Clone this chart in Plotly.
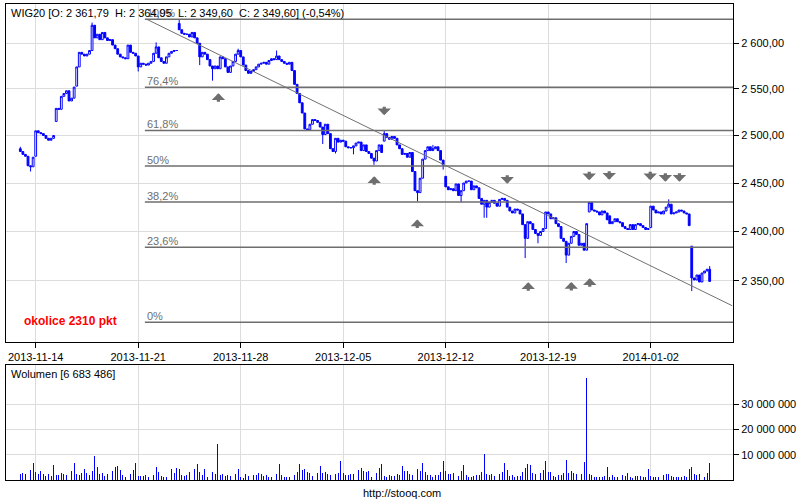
import numpy as np
import plotly.graph_objects as go

# ---------------- data ----------------
days = ["2013-11-13", "2013-11-14", "2013-11-15", "2013-11-18", "2013-11-19", "2013-11-20",
        "2013-11-21", "2013-11-22", "2013-11-25", "2013-11-26", "2013-11-27", "2013-11-28",
        "2013-11-29", "2013-12-02", "2013-12-03", "2013-12-04", "2013-12-05", "2013-12-06",
        "2013-12-09", "2013-12-10", "2013-12-11", "2013-12-12", "2013-12-13", "2013-12-16",
        "2013-12-17", "2013-12-18", "2013-12-19", "2013-12-20", "2013-12-23", "2013-12-27",
        "2013-12-30", "2014-01-02", "2014-01-03", "2014-01-07"]

# opening price of the first hourly bar of each session
day_open = [2486, 2478, 2515, 2553, 2606, 2594, 2586, 2596, 2622, 2600, 2572, 2592, 2577,
            2582, 2535, 2509, 2495, 2484, 2494, 2480, 2475, 2457, 2450, 2432, 2432, 2393,
            2420, 2376, 2420, 2416, 2402, 2404, 2428, 2385]

# hourly closes per session (the first session starts later)
day_close = [
    [2483, 2480, 2478, 2468, 2467, 2477],
    [2505, 2503, 2502, 2500, 2497, 2495, 2497, 2500],
    [2529, 2528, 2542, 2545, 2548, 2537, 2540, 2552],
    [2574, 2590, 2588, 2586, 2588, 2592, 2620, 2606],
    [2610, 2604, 2612, 2606, 2603, 2604, 2598, 2594],
    [2588, 2585, 2584, 2583, 2598, 2590, 2589, 2586],
    [2574, 2578, 2577, 2576, 2578, 2580, 2589, 2596],
    [2584, 2580, 2578, 2585, 2589, 2591, 2592, 2592],
    [2615, 2611, 2610, 2610, 2607, 2612, 2606, 2600],
    [2585, 2590, 2588, 2582, 2575, 2572, 2575, 2572],
    [2585, 2583, 2574, 2568, 2575, 2580, 2588, 2592],
    [2585, 2576, 2570, 2567, 2569, 2571, 2574, 2577],
    [2578, 2579, 2577, 2581, 2583, 2582, 2586, 2582],
    [2580, 2578, 2577, 2579, 2570, 2555, 2545, 2535],
    [2524, 2507, 2506, 2512, 2517, 2516, 2514, 2509],
    [2501, 2512, 2502, 2486, 2483, 2497, 2493, 2495],
    [2494, 2488, 2487, 2487, 2489, 2492, 2493, 2484],
    [2490, 2483, 2481, 2476, 2473, 2484, 2490, 2482],
    [2502, 2498, 2496, 2499, 2497, 2490, 2486, 2480],
    [2481, 2477, 2482, 2462, 2442, 2440, 2455, 2475],
    [2484, 2488, 2484, 2486, 2488, 2484, 2474, 2469],
    [2446, 2443, 2444, 2442, 2449, 2437, 2442, 2450],
    [2452, 2452, 2443, 2447, 2445, 2434, 2428, 2432],
    [2425, 2430, 2432, 2429, 2426, 2433, 2434, 2432],
    [2425, 2421, 2419, 2423, 2422, 2418, 2407, 2393],
    [2410, 2408, 2402, 2398, 2396, 2400, 2403, 2420],
    [2418, 2413, 2414, 2408, 2405, 2393, 2390, 2376],
    [2388, 2395, 2400, 2397, 2386, 2388, 2381, 2408],
    [2430, 2422, 2421, 2420, 2417, 2421, 2419, 2412],
    [2408, 2410, 2413, 2410, 2409, 2405, 2403, 2402],
    [2407, 2402, 2407, 2408, 2406, 2404, 2402, 2403],
    [2426, 2422, 2419, 2420, 2418, 2421, 2425, 2428],
    [2418, 2419, 2420, 2422, 2421, 2419, 2418, 2406],
    [2353, 2351, 2356, 2349, 2358, 2360, 2361.79, 2349.60],
]

# visible wicks beyond the bodies: (session, hourly slot) -> price
wick_high = {(0, 2): 2488, (3, 6): 2623, (6, 7): 2601, (8, 0): 2626.5, (10, 7): 2594,
             (12, 6): 2592, (18, 0): 2505, (20, 3): 2490, (31, 7): 2433, (33, 7): 2364.95}
wick_low = {(0, 6): 2462, (6, 0): 2569, (9, 0): 2576, (9, 5): 2559, (15, 0): 2491,
            (15, 5): 2481, (16, 4): 2480, (17, 4): 2469, (19, 5): 2431, (20, 7): 2464,
            (21, 6): 2430, (22, 7): 2414, (23, 0): 2414, (24, 7): 2373, (25, 4): 2388,
            (26, 7): 2368, (33, 0): 2340, (33, 7): 2349.60}

# hourly volume in millions
day_volume = [
    [2.2, 2.6, 2.2, 1.9, 3.8, 6.6],
    [3.1, 2.2, 3.4, 2.2, 1.5, 2.2, 1.5, 5.8],
    [1.8, 1.8, 2.6, 2.2, 1.8, 1.8, 3.4, 6.6],
    [2.2, 1.8, 2.6, 4.2, 2.6, 1.8, 3.4, 9.5],
    [5.0, 2.2, 2.6, 1.5, 2.2, 1.5, 3.4, 5.0],
    [5.4, 3.8, 1.8, 1.1, 1.5, 2.2, 3.8, 6.6],
    [1.5, 1.5, 1.5, 1.8, 1.1, 1.8, 1.8, 5.0],
    [3.0, 1.5, 1.1, 1.1, 1.8, 4.2, 2.6, 4.6],
    [4.2, 1.8, 1.5, 1.8, 3.0, 3.0, 4.2, 6.2],
    [3.0, 1.8, 4.2, 1.1, 1.8, 3.0, 2.2, 14.3],
    [1.8, 2.2, 1.5, 1.8, 1.5, 1.8, 2.2, 4.2],
    [1.1, 0.7, 2.2, 1.5, 1.5, 1.8, 1.8, 2.6],
    [2.2, 1.5, 1.8, 1.1, 1.1, 1.8, 2.2, 6.2],
    [1.8, 1.1, 1.1, 1.1, 1.1, 1.8, 3.0, 6.2],
    [3.8, 4.2, 3.0, 2.6, 1.5, 2.2, 2.6, 5.4],
    [2.6, 3.0, 2.2, 1.8, 2.6, 2.2, 2.6, 7.4],
    [2.6, 1.8, 1.8, 2.2, 2.2, 1.8, 3.8, 4.6],
    [3.4, 3.0, 3.4, 1.1, 2.6, 2.6, 4.6, 6.2],
    [1.5, 1.1, 1.8, 1.5, 1.5, 2.2, 1.8, 5.4],
    [3.4, 3.4, 2.2, 1.8, 2.6, 4.2, 3.4, 6.6],
    [3.0, 1.8, 1.8, 1.1, 1.8, 1.8, 3.0, 7.4],
    [3.4, 2.2, 2.2, 2.6, 1.5, 1.5, 3.4, 5.8],
    [1.8, 1.1, 1.1, 1.5, 1.8, 1.8, 3.0, 10.3],
    [2.2, 1.8, 2.2, 1.5, 3.0, 2.2, 3.0, 6.6],
    [3.8, 1.5, 1.8, 1.1, 1.5, 1.5, 3.0, 4.7],
    [6.2, 5.8, 2.6, 2.2, 2.6, 2.6, 3.8, 7.4],
    [3.0, 3.0, 1.5, 1.1, 1.8, 1.8, 2.6, 7.8],
    [2.6, 3.4, 2.6, 2.2, 1.8, 2.2, 7.0, 40.4],
    [2.2, 1.8, 1.1, 1.1, 1.1, 1.1, 1.5, 5.0],
    [1.1, 1.8, 1.1, 1.1, 1.8, 1.8, 1.5, 2.6],
    [1.1, 0.7, 1.5, 1.5, 1.5, 1.1, 1.1, 4.2],
    [1.5, 1.1, 1.1, 1.1, 1.5, 1.8, 2.2, 2.2],
    [1.5, 1.1, 1.1, 1.1, 1.1, 1.5, 1.1, 4.2],
    [5.0, 2.2, 1.8, 2.2, 1.5, 1.1, 2.6, 6.683486],
]

tick_days = ["2013-11-14", "2013-11-21", "2013-11-28", "2013-12-05",
             "2013-12-12", "2013-12-19", "2014-01-02"]
price_ticks = [2350, 2400, 2450, 2500, 2550, 2600]
volume_ticks = [10_000_000, 20_000_000, 30_000_000]

fib_low, fib_high = 2309.0, 2626.7
fib_levels = [0.0, 0.236, 0.382, 0.5, 0.618, 0.764, 1.0]
fib_labels = ["0%", "23,6%", "38,2%", "50%", "61,8%", "76,4%", "100%"]
fib_start = 50.6           # bar index where the retracement lines begin

trend_x = [51.3, 279.8]    # bar index
trend_y = [2626.7, 2325.4]  # price

arrow_up_x = [79.3, 140.1, 156.9, 200.2, 217.0, 224.2]
arrow_up_y = [2545.4, 2457.1, 2412.3, 2348.8, 2349.0, 2352.8]
arrow_down_x = [144.0, 192.0, 224.0, 231.8, 247.8, 253.7, 259.2]
arrow_down_y = [2521.6, 2449.2, 2452.9, 2453.4, 2452.9, 2451.3, 2451.3]

change_text = "(-0,54%)"
note_text = "okolice 2310 pkt"

# ---------------- build hourly bars ----------------
SLOTS = 8
bx, bo, bh, bl, bc, bv = [], [], [], [], [], []
for d, closes in enumerate(day_close):
    first = SLOTS - len(closes)
    prev = day_open[d]
    for j, cl in enumerate(closes):
        slot = first + j
        op = prev
        hi = max(op, cl, wick_high.get((d, slot), 0))
        lo = min(op, cl, wick_low.get((d, slot), 1e9))
        bx.append(d * SLOTS + slot)
        bo.append(op); bh.append(hi); bl.append(lo); bc.append(cl)
        bv.append(day_volume[d][j] * 1e6)
        prev = cl


def fmt(v, dec=2):
    s = f"{v:,.{dec}f}"
    return s.replace(",", " ").replace(".", ",")


BLUE = "#0000ff"
GRID = "#dcdcdc"
GREY = "#6e6e6e"
FONT = "Liberation Sans, Arial, sans-serif"

fig = go.Figure()

fig.add_trace(go.Candlestick(
    x=bx, open=bo, high=bh, low=bl, close=bc,
    increasing=dict(line=dict(color=BLUE, width=1), fillcolor="white"),
    decreasing=dict(line=dict(color=BLUE, width=1), fillcolor=BLUE),
    whiskerwidth=0, xaxis="x", yaxis="y", hoverinfo="skip"))

# Fibonacci retracement lines
x_end = 281
fx, fy = [], []
for lv in fib_levels:
    p = fib_low + lv * (fib_high - fib_low)
    fx += [fib_start, x_end, None]
    fy += [p, p, None]
fig.add_trace(go.Scatter(x=fx, y=fy, mode="lines", line=dict(color=GREY, width=1.5),
                         xaxis="x", yaxis="y", hoverinfo="skip"))
# trend line
fig.add_trace(go.Scatter(x=trend_x, y=trend_y, mode="lines", line=dict(color="#707070", width=1),
                         xaxis="x", yaxis="y", hoverinfo="skip"))

# volume
fig.add_trace(go.Bar(x=bx, y=bv, width=0.36, marker=dict(color=BLUE, line=dict(width=0)),
                     xaxis="x2", yaxis="y2", hoverinfo="skip"))

annotations = []
for lv, lab in zip(fib_levels, fib_labels):
    p = fib_low + lv * (fib_high - fib_low)
    annotations.append(dict(x=fib_start, y=np.log10(p), xref="x", yref="y", text=lab,
                            showarrow=False, xanchor="left", yanchor="bottom", yshift=-2,
                            font=dict(family=FONT, size=11, color=GREY)))
for ax_, ay_ in zip(arrow_up_x, arrow_up_y):
    annotations.append(dict(x=ax_, y=np.log10(ay_), xref="x", yref="y", text="",
                            showarrow=True, arrowhead=1, arrowsize=0.7, arrowwidth=3.2,
                            arrowcolor=GREY, ax=0, ay=10))
for ax_, ay_ in zip(arrow_down_x, arrow_down_y):
    annotations.append(dict(x=ax_, y=np.log10(ay_), xref="x", yref="y", text="",
                            showarrow=True, arrowhead=1, arrowsize=0.7, arrowwidth=3.2,
                            arrowcolor=GREY, ax=0, ay=-10))

nb = "\u00a0\u00a0"
title = (f"WIG20 [O: {fmt(bo[-1])}{nb}H: {fmt(bh[-1])}{nb}L: {fmt(bl[-1])}{nb}"
         f"C: {fmt(bc[-1])}] {change_text}")
annotations.append(dict(x=0.004, y=0.982, xref="paper", yref="paper", text=title,
                        showarrow=False, xanchor="left", yanchor="middle",
                        font=dict(family=FONT, size=11, color="black")))
annotations.append(dict(x=0.004, y=0.2227, xref="paper", yref="paper",
                        text=f"Wolumen [{fmt(bv[-1], 0)}]",
                        showarrow=False, xanchor="left", yanchor="middle",
                        font=dict(family=FONT, size=11, color="black")))
annotations.append(dict(x=0.022, y=0.3347, xref="paper", yref="paper",
                        text=f"<b>{note_text}</b>",
                        showarrow=False, xanchor="left", yanchor="middle",
                        font=dict(family=FONT, size=12, color="#ff0000")))
annotations.append(dict(x=0.5443, y=-0.0267, xref="paper", yref="paper",
                        text="http://stooq.com", showarrow=False,
                        xanchor="center", yanchor="middle",
                        font=dict(family=FONT, size=11, color="black")))

tickpos = [days.index(t) * SLOTS for t in tick_days]
x_range = [-3.59, 280.1]

fig.update_layout(
    width=800, height=500,
    margin=dict(l=6, r=67, t=4, b=20),
    paper_bgcolor="white", plot_bgcolor="white",
    showlegend=False, hovermode=False,
    font=dict(family=FONT, size=11, color="black"),
    annotations=annotations,
    boxgap=0.0,
    xaxis=dict(range=x_range, tickmode="array", tickvals=tickpos, ticktext=tick_days,
               showgrid=True, gridcolor=GRID, gridwidth=1, ticks="outside", ticklen=5,
               tickcolor="black", showline=True, linecolor="black", linewidth=1, mirror=True,
               zeroline=False, rangeslider=dict(visible=False), anchor="y",
               tickfont=dict(family=FONT, size=11, color="black")),
    yaxis=dict(type="log", range=[np.log10(2289.8), np.log10(2643.8)],
               domain=[0.2899, 1.0], side="right", tickmode="array",
               tickvals=price_ticks, ticktext=[fmt(v) for v in price_ticks],
               showgrid=True, gridcolor=GRID, ticks="outside", ticklen=5, tickcolor="black",
               showline=True, linecolor="black", linewidth=1, mirror=True, zeroline=False,
               anchor="x", tickfont=dict(family=FONT, size=11, color="black")),
    xaxis2=dict(range=x_range, matches="x", tickmode="array", tickvals=tickpos,
                showticklabels=False, showgrid=True, gridcolor=GRID, ticks="",
                showline=True, linecolor="black", linewidth=1, mirror=True,
                zeroline=False, anchor="y2"),
    yaxis2=dict(range=[0, 45.6e6], domain=[0.0, 0.2416], side="right", tickmode="array",
                tickvals=volume_ticks, ticktext=[fmt(v, 0) for v in volume_ticks],
                showgrid=True, gridcolor=GRID, ticks="outside", ticklen=5, tickcolor="black",
                showline=True, linecolor="black", linewidth=1, mirror=True, zeroline=False,
                anchor="x2", tickfont=dict(family=FONT, size=11, color="black")),
    bargap=0,
)

fig.write_html("out.html", config={"displayModeBar": False, "staticPlot": True},
               post_script="document.body.style.margin='0px';document.body.style.overflow='hidden';")
